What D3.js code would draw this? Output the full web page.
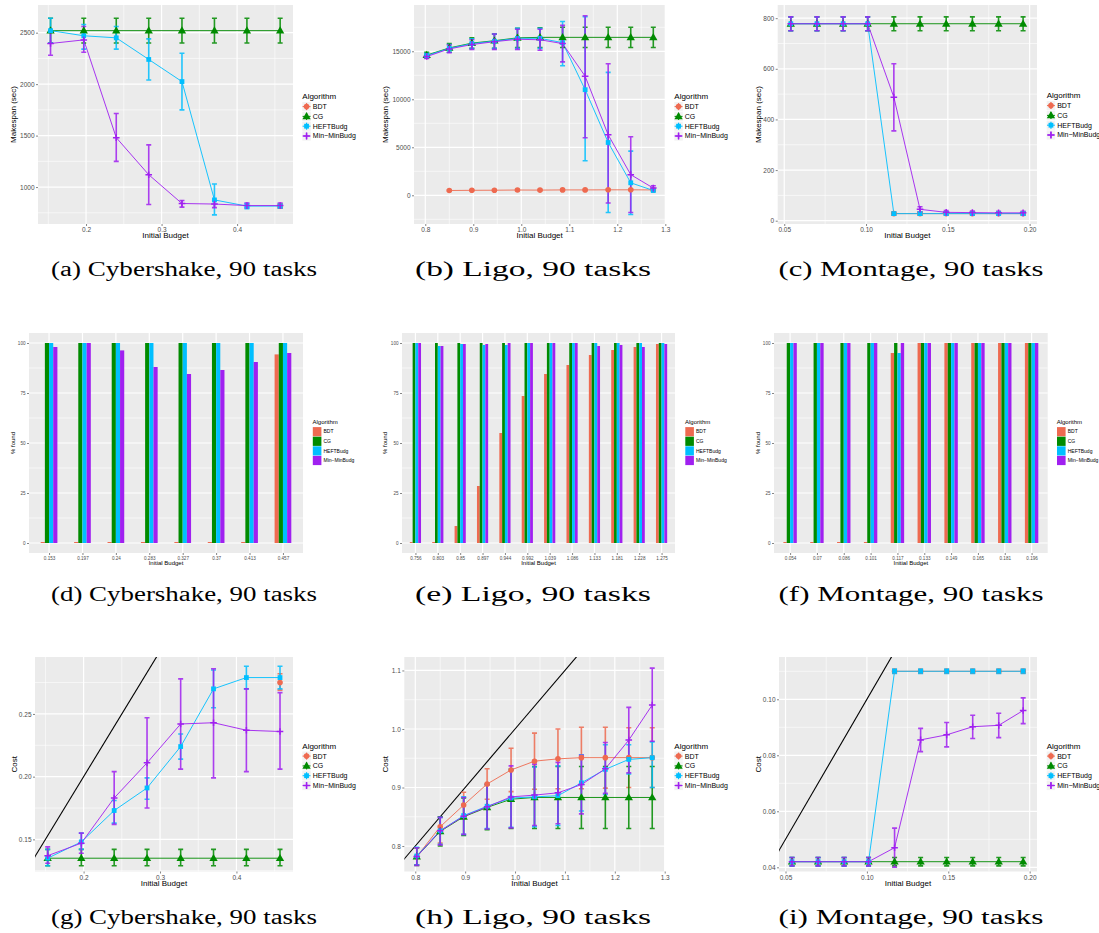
<!DOCTYPE html>
<html>
<head>
<meta charset="utf-8">
<script src="https://cdn.jsdelivr.net/npm/d3@7"></script>
<style>
body { margin: 0; background: #fff; }
svg { display: block; }
text { font-family: "Liberation Sans", Arial, sans-serif; }
.cap { font-family: "Liberation Serif", "DejaVu Serif", serif; }
</style>
</head>
<body>
<svg id="fig" width="1099" height="933"></svg>
<script>
/* global d3 */

var algorithms = ["BDT", "CG", "HEFTBudg", "Min\u2212MinBudg"];
var colors = ["#EE6A50", "#008B00", "#00BFFF", "#A020F0"];

var cyberBudget = [0.153, 0.197, 0.24, 0.283, 0.327, 0.37, 0.413, 0.457];
var ligoBudget = [0.756, 0.803, 0.85, 0.897, 0.944, 0.992, 1.039, 1.086, 1.133, 1.181, 1.228, 1.275];
var montageBudget = [0.054, 0.07, 0.086, 0.101, 0.117, 0.133, 0.149, 0.165, 0.181, 0.196];

// makespan: [mean, low, high], null = no schedule found
var cyberMakespanBDT = [null, null, null, null, null, null, null, [815, 795, 835]];
var cyberMakespanCG = [[2520, 2400, 2640], [2520, 2400, 2640], [2520, 2400, 2640], [2520, 2400, 2640],
    [2520, 2400, 2640], [2520, 2400, 2640], [2520, 2400, 2640], [2520, 2400, 2640]];
var cyberMakespanHEFT = [[2520, 2400, 2640], [2470, 2340, 2580], [2450, 2340, 2560], [2240, 2040, 2440],
    [2025, 1750, 2300], [875, 730, 1030], [815, 790, 840], [815, 795, 835]];
var cyberMakespanMinMin = [[2395, 2280, 2510], [2430, 2310, 2560], [1480, 1250, 1715], [1120, 830, 1410],
    [840, 805, 870], [835, 800, 870], [820, 800, 845], [820, 800, 845]];

var ligoMakespanBDT = [null, null, [500, 450, 550], [520, 470, 570], [530, 480, 580], [550, 500, 600],
    [540, 490, 590], [560, 510, 610], [560, 510, 610], [570, 520, 620], [570, 520, 620], [560, 510, 610]];
var ligoMakespanCG = [null, [14600, 14300, 14900], [15350, 14900, 15800], [15850, 15300, 16400],
    [16100, 15300, 16800], [16400, 15400, 17400], [16450, 15400, 17450], [16450, 15400, 17500],
    [16450, 15400, 17500], [16450, 15400, 17500], [16450, 15400, 17500], [16450, 15400, 17500]];
var ligoMakespanHEFT = [null, [14550, 14350, 14800], [15300, 14900, 15700], [15800, 15300, 16300],
    [16050, 15300, 16800], [16350, 15300, 17400], [16350, 15300, 17400], [15900, 13500, 18100],
    [11000, 3600, 18600], [5500, -1800, 12800], [1300, -2000, 4600], [500, 400, 650]];
var ligoMakespanMinMin = [null, [14450, 14250, 14700], [15250, 14850, 15650], [15700, 15200, 16200],
    [16000, 15200, 16800], [16250, 15200, 17300], [16200, 15100, 17300], [15800, 13900, 17700],
    [12400, 6000, 18700], [6300, -800, 13700], [2150, -1800, 6100], [750, 500, 1000]];

var montageMakespanBDT = [null, null, null, null, [28, 22, 34], [28, 22, 34], [28, 22, 34],
    [28, 22, 34], [28, 22, 34], [28, 22, 34]];
var montageMakespanCG = [[778, 750, 805], [778, 750, 805], [778, 750, 805], [778, 750, 805], [778, 750, 805],
    [778, 750, 805], [778, 750, 805], [778, 750, 805], [778, 750, 805], [778, 750, 805]];
var montageMakespanHEFT = [[778, 750, 805], [778, 750, 805], [778, 750, 805], [778, 750, 805], [28, 22, 34],
    [28, 22, 34], [28, 22, 34], [28, 22, 34], [28, 22, 34], [28, 22, 34]];
var montageMakespanMinMin = [[778, 750, 805], [778, 750, 805], [778, 750, 805], [778, 750, 805],
    [488, 355, 620], [45, 35, 55], [33, 26, 40], [32, 26, 38], [31, 26, 37], [31, 26, 37]];

// percentage of runs where a schedule was found
var cyberFoundBDT = [0.5, 0.5, 0.5, 0.5, 0.5, 0.5, 0.5, 94.3];
var cyberFoundCG = [100, 100, 100, 100, 100, 100, 100, 100];
var cyberFoundHEFT = [100, 100, 100, 100, 100, 100, 100, 100];
var cyberFoundMinMin = [98, 100, 96.3, 88, 84.5, 86.5, 90.5, 95];

var ligoFoundBDT = [0.5, 0.5, 8.5, 28.5, 55, 73.5, 84.5, 89, 94, 96.5, 98, 99.5];
var ligoFoundCG = [100, 100, 100, 100, 100, 100, 100, 100, 100, 100, 100, 100];
var ligoFoundHEFT = [100, 98.5, 99.5, 99, 99, 100, 100, 100, 100, 100, 100, 100];
var ligoFoundMinMin = [100, 98.5, 99.5, 99.5, 100, 100, 100, 100, 98.5, 99, 98, 99.5];

var montageFoundBDT = [0.5, 0.5, 0.5, 0.5, 95, 100, 100, 100, 100, 100];
var montageFoundCG = [100, 100, 100, 100, 100, 100, 100, 100, 100, 100];
var montageFoundHEFT = [100, 100, 100, 100, 95, 100, 100, 100, 100, 100];
var montageFoundMinMin = [100, 100, 100, 100, 100, 100, 100, 100, 100, 100];

// cost: [mean, low, high]
var cyberCostBDT = [null, null, null, null, null, null, null, [0.275, 0.269, 0.282]];
var cyberCostCG = [[0.135, 0.129, 0.142], [0.135, 0.129, 0.142], [0.135, 0.129, 0.142], [0.135, 0.129, 0.142],
    [0.135, 0.129, 0.142], [0.135, 0.129, 0.142], [0.135, 0.129, 0.142], [0.135, 0.129, 0.142]];
var cyberCostHEFT = [[0.135, 0.129, 0.142], [0.148, 0.142, 0.155], [0.173, 0.163, 0.181], [0.191, 0.182, 0.199],
    [0.224, 0.214, 0.234], [0.270, 0.255, 0.285], [0.279, 0.270, 0.288], [0.279, 0.270, 0.288]];
var cyberCostMinMin = [[0.137, 0.131, 0.144], [0.147, 0.139, 0.155], [0.183, 0.162, 0.204], [0.211, 0.175, 0.247],
    [0.242, 0.206, 0.278], [0.243, 0.199, 0.286], [0.237, 0.204, 0.270], [0.236, 0.206, 0.267]];

var ligoCostBDT = [null, [0.782, 0.768, 0.797], [0.833, 0.805, 0.850], [0.870, 0.848, 0.892], [0.906, 0.880, 0.932],
    [0.930, 0.893, 0.967], [0.945, 0.897, 0.993], [0.949, 0.898, 1.000], [0.951, 0.898, 1.003],
    [0.951, 0.899, 1.003], [0.951, 0.900, 1.002], [0.951, 0.900, 1.002]];
var ligoCostCG = [null, [0.782, 0.767, 0.797], [0.825, 0.800, 0.850], [0.850, 0.818, 0.882], [0.866, 0.828, 0.905],
    [0.880, 0.830, 0.930], [0.883, 0.830, 0.936], [0.883, 0.830, 0.936], [0.883, 0.830, 0.936],
    [0.883, 0.830, 0.936], [0.883, 0.830, 0.936], [0.883, 0.830, 0.936]];
var ligoCostHEFT = [null, [0.783, 0.768, 0.798], [0.826, 0.803, 0.849], [0.852, 0.820, 0.884], [0.868, 0.830, 0.906],
    [0.882, 0.832, 0.932], [0.884, 0.833, 0.935], [0.886, 0.835, 0.937], [0.908, 0.860, 0.956],
    [0.931, 0.888, 0.973], [0.948, 0.923, 0.973], [0.951, 0.900, 0.978]];
var ligoCostMinMin = [null, [0.782, 0.767, 0.797], [0.826, 0.802, 0.849], [0.851, 0.820, 0.883], [0.867, 0.829, 0.905],
    [0.884, 0.831, 0.937], [0.887, 0.835, 0.940], [0.891, 0.838, 0.943], [0.905, 0.855, 0.955],
    [0.932, 0.890, 0.977], [0.981, 0.925, 1.037], [1.041, 0.979, 1.104]];

var montageCostBDT = [null, null, null, null, [0.110, 0.1094, 0.1106], [0.110, 0.1094, 0.1106],
    [0.110, 0.1094, 0.1106], [0.110, 0.1094, 0.1106], [0.110, 0.1094, 0.1106], [0.110, 0.1094, 0.1106]];
var montageCostCG = [[0.042, 0.0405, 0.0435], [0.042, 0.0405, 0.0435], [0.042, 0.0405, 0.0435],
    [0.042, 0.0405, 0.0435], [0.042, 0.0405, 0.0435], [0.042, 0.0405, 0.0435], [0.042, 0.0405, 0.0435],
    [0.042, 0.0405, 0.0435], [0.042, 0.0405, 0.0435], [0.042, 0.0405, 0.0435]];
var montageCostHEFT = [[0.042, 0.0405, 0.0435], [0.042, 0.0405, 0.0435], [0.042, 0.0405, 0.0435],
    [0.042, 0.0405, 0.0435], [0.110, 0.1092, 0.1108], [0.110, 0.1092, 0.1108], [0.110, 0.1092, 0.1108],
    [0.110, 0.1092, 0.1108], [0.110, 0.1092, 0.1108], [0.110, 0.1092, 0.1108]];
var montageCostMinMin = [[0.042, 0.0405, 0.0435], [0.042, 0.0405, 0.0435], [0.042, 0.0405, 0.0435],
    [0.042, 0.0405, 0.0435], [0.047, 0.040, 0.054], [0.0855, 0.0813, 0.0896], [0.0873, 0.083, 0.0917],
    [0.0902, 0.086, 0.0943], [0.0907, 0.0863, 0.095], [0.096, 0.0913, 0.1005]];

var captions = ["(a) Cybershake, 90 tasks", "(b) Ligo, 90 tasks", "(c) Montage, 90 tasks",
    "(d) Cybershake, 90 tasks", "(e) Ligo, 90 tasks", "(f) Montage, 90 tasks",
    "(g) Cybershake, 90 tasks", "(h) Ligo, 90 tasks", "(i) Montage, 90 tasks"];

var svg = d3.select("#fig");
var clipN = 0;

function shape(sel, i, cx, cy, col) {
    if (i === 0) {
        sel.append("circle").attr("cx", cx).attr("cy", cy).attr("r", 2.8).attr("fill", col);
    } else if (i === 1) {
        sel.append("path").attr("d", d3.symbol(d3.symbolTriangle, 30)())
            .attr("transform", "translate(" + cx + "," + (cy + 0.5) + ")").attr("fill", col);
    } else if (i === 2) {
        sel.append("rect").attr("x", cx - 2.4).attr("y", cy - 2.4).attr("width", 4.8).attr("height", 4.8).attr("fill", col);
    } else {
        sel.append("path").attr("d", "M" + (cx - 3.3) + "," + cy + "H" + (cx + 3.3) + "M" + cx + "," + (cy - 3.3) + "V" + (cy + 3.3))
            .attr("stroke", col).attr("stroke-width", 1.5);
    }
}

function grid(g, c, x, y, xMaj, xMin, yMaj, yMin) {
    g.append("rect").attr("x", c.left).attr("y", c.top)
        .attr("width", c.right - c.left).attr("height", c.bottom - c.top).attr("fill", "#EBEBEB");
    g.selectAll(null).data(yMin).enter().append("line")
        .attr("x1", c.left).attr("x2", c.right).attr("y1", y).attr("y2", y)
        .attr("stroke", "#fff").attr("stroke-width", 0.6);
    g.selectAll(null).data(xMin).enter().append("line")
        .attr("y1", c.top).attr("y2", c.bottom).attr("x1", x).attr("x2", x)
        .attr("stroke", "#fff").attr("stroke-width", 0.6);
    g.selectAll(null).data(yMaj).enter().append("line")
        .attr("x1", c.left).attr("x2", c.right).attr("y1", y).attr("y2", y)
        .attr("stroke", "#fff").attr("stroke-width", 1.2);
    g.selectAll(null).data(xMaj).enter().append("line")
        .attr("y1", c.top).attr("y2", c.bottom).attr("x1", x).attr("x2", x)
        .attr("stroke", "#fff").attr("stroke-width", 1.2);
}

function styleAxis(a, fs) {
    a.select(".domain").remove();
    a.selectAll(".tick line").attr("stroke", "#333").attr("stroke-width", 0.6);
    a.selectAll(".tick text").attr("fill", "#4D4D4D").style("font-size", fs + "px").attr("font-family", null);
}

function axes(g, c, x, y, xTicks, yTicks, xFmt, yFmt, fs) {
    var ax = g.append("g").attr("transform", "translate(0," + c.bottom + ")")
        .call(d3.axisBottom(x).tickValues(xTicks).tickFormat(xFmt).tickSize(2).tickPadding(1.5));
    styleAxis(ax, fs);
    var ay = g.append("g").attr("transform", "translate(" + c.left + ",0)")
        .call(d3.axisLeft(y).tickValues(yTicks).tickFormat(yFmt).tickSize(2).tickPadding(1.5));
    styleAxis(ay, fs);
}

function titles(g, c, yTitle, fs) {
    g.append("text").attr("x", (c.left + c.right) / 2).attr("y", c.bottom + c.xTitleDy)
        .attr("text-anchor", "middle").style("font-size", fs + "px").attr("fill", "#000").text("Initial Budget");
    g.append("text").attr("transform", "translate(" + c.yTitleX + "," + ((c.top + c.bottom) / 2) + ") rotate(-90)")
        .attr("text-anchor", "middle").attr("dy", "0.35em").style("font-size", fs + "px").attr("fill", "#000").text(yTitle);
}

function caption(c, k) {
    svg.append("text").attr("class", "cap").attr("x", c.capX).attr("y", c.capY)
        .attr("text-anchor", "middle").attr("textLength", c.capW).attr("lengthAdjust", "spacingAndGlyphs")
        .style("font-size", "20.5px").attr("fill", "#000").text(captions[k]);
}

function linePanel(c) {
    var g = svg.append("g");
    var x = d3.scaleLinear().domain(c.xDomain).range([c.left, c.right]);
    var y = d3.scaleLinear().domain(c.yDomain).range([c.bottom, c.top]);
    grid(g, c, x, y, c.xTicks, c.xMinor, c.yTicks, c.yMinor);

    var id = "clip" + (clipN++);
    svg.append("clipPath").attr("id", id).append("rect")
        .attr("x", c.left).attr("y", c.top).attr("width", c.right - c.left).attr("height", c.bottom - c.top);
    var plot = g.append("g").attr("clip-path", "url(#" + id + ")");

    if (c.identity) {
        var lo = Math.min(c.xDomain[0], c.yDomain[0]), hi = Math.max(c.xDomain[1], c.yDomain[1]);
        plot.append("path").datum([lo, hi])
            .attr("d", d3.line().x(function (v) { return x(v); }).y(function (v) { return y(v); }))
            .attr("stroke", "#000").attr("stroke-width", 1.1).attr("fill", "none");
    }

    var pts = c.series.map(function (s) {
        return c.budget.map(function (b, j) { return { b: b, v: s[j] }; })
            .filter(function (d) { return d.v !== null; });
    });

    var line = d3.line().x(function (d) { return x(d.b); }).y(function (d) { return y(d.v[0]); });
    pts.forEach(function (p, i) {
        plot.append("path").datum(p).attr("d", line)
            .attr("stroke", colors[i]).attr("stroke-width", 1).attr("fill", "none").attr("opacity", 0.9);
    });
    pts.forEach(function (p, i) {
        var eb = plot.append("g").attr("stroke", colors[i]).attr("stroke-width", 1.6).attr("opacity", 0.85);
        p.forEach(function (d) {
            var cx = x(d.b);
            eb.append("path").attr("fill", "none")
                .attr("d", "M" + (cx - 2.5) + "," + y(d.v[1]) + "H" + (cx + 2.5) +
                    "M" + cx + "," + y(d.v[1]) + "V" + y(d.v[2]) +
                    "M" + (cx - 2.5) + "," + y(d.v[2]) + "H" + (cx + 2.5));
        });
    });
    pts.forEach(function (p, i) {
        p.forEach(function (d) { shape(plot, i, x(d.b), y(d.v[0]), colors[i]); });
    });

    axes(g, c, x, y, c.xTicks, c.yTicks, c.xFmt, c.yFmt, 6.5);
    titles(g, c, c.yTitle, 8);

    // legend
    var lg = g.append("g");
    lg.append("text").attr("x", c.legX).attr("y", c.legY).attr("dy", "0.35em")
        .style("font-size", "8px").attr("fill", "#000").text("Algorithm");
    algorithms.forEach(function (a, i) {
        var cy = c.legY + 9.8 * (i + 1) + 0.3;
        lg.append("rect").attr("x", c.legX).attr("y", cy - 4.6).attr("width", 8.5).attr("height", 9.2).attr("fill", "#F2F2F2");
        lg.append("line").attr("x1", c.legX + 0.3).attr("x2", c.legX + 8.2).attr("y1", cy).attr("y2", cy)
            .attr("stroke", colors[i]).attr("stroke-width", 1);
        lg.append("line").attr("x1", c.legX + 4.25).attr("x2", c.legX + 4.25).attr("y1", cy - 3.5).attr("y2", cy + 3.5)
            .attr("stroke", colors[i]).attr("stroke-width", 1.2);
        shape(lg, i, c.legX + 4.25, cy, colors[i]);
        lg.append("text").attr("x", c.legX + 10.5).attr("y", cy).attr("dy", "0.35em")
            .style("font-size", "7px").attr("fill", "#000").text(a);
    });
}

function barPanel(c) {
    var g = svg.append("g");
    var n = c.budget.length;
    var labels = c.budget.map(String);
    var pos = d3.scaleLinear().domain([0.4, n + 0.6]).range([c.left, c.right]);
    var x = function (lab) { return pos(labels.indexOf(lab) + 1); };
    var y = d3.scaleLinear().domain([-5, 105]).range([c.bottom, c.top]);
    grid(g, c, x, y, labels, [], [0, 25, 50, 75, 100], [12.5, 37.5, 62.5, 87.5]);

    var inner = d3.scaleBand().domain(d3.range(4)).range([-0.25, 0.25]);
    c.series.forEach(function (s, i) {
        g.selectAll(null).data(s).enter().append("rect")
            .attr("x", function (v, j) { return pos(j + 1 + inner(i)); })
            .attr("width", pos(1 + inner.bandwidth()) - pos(1))
            .attr("y", function (v) { return y(Math.max(v, 0)); })
            .attr("height", function (v) { return Math.abs(y(0) - y(v)); })
            .attr("fill", colors[i]);
    });

    var ax = g.append("g").attr("transform", "translate(0," + c.bottom + ")")
        .call(d3.axisBottom(d3.scalePoint().domain(labels).range([pos(1), pos(n)])).tickSize(2).tickPadding(1.5));
    styleAxis(ax, 4.6);
    var ay = g.append("g").attr("transform", "translate(" + c.left + ",0)")
        .call(d3.axisLeft(y).tickValues([0, 25, 50, 75, 100]).tickFormat(d3.format("d")).tickSize(2).tickPadding(1.5));
    styleAxis(ay, 4.6);
    titles(g, c, "% found", 6);

    var lg = g.append("g");
    lg.append("text").attr("x", c.legX).attr("y", c.legY).attr("dy", "0.35em")
        .style("font-size", "6px").attr("fill", "#000").text("Algorithm");
    algorithms.forEach(function (a, i) {
        var cy = c.legY + 10 + 9.6 * i;
        lg.append("rect").attr("x", c.legX + 0.3).attr("y", cy - 4.6).attr("width", 8.6).attr("height", 9.2).attr("fill", colors[i]);
        lg.append("text").attr("x", c.legX + 11).attr("y", cy).attr("dy", "0.35em")
            .style("font-size", "5px").attr("fill", "#000").text(a);
    });
}

var f2 = d3.format(".2f"), f1 = d3.format(".1f"), fd = d3.format("d");
var cyberX = { xDomain: [0.1364, 0.474], xTicks: [0.2, 0.3, 0.4], xMinor: [0.15, 0.25, 0.35, 0.45], xFmt: f1 };
var ligoX = { xDomain: [0.7765, 1.30], xTicks: [0.8, 0.9, 1.0, 1.1, 1.2, 1.3], xMinor: [0.85, 0.95, 1.05, 1.15, 1.25], xFmt: f1 };
var montX = { xDomain: [0.046, 0.2045], xTicks: [0.05, 0.10, 0.15, 0.20], xMinor: [0.075, 0.125, 0.175], xFmt: f2 };

function merge(a, b) { return Object.assign({}, a, b); }

var rows = [{ capY: 276 }, { capY: 601 }, { capY: 924 }];
var cols = [{ capX: 184, capW: 266 }, { capX: 533, capW: 236 }, { capX: 911, capW: 265 }];

// row 1: makespan
linePanel(merge(cyberX, { left: 38, right: 293, top: 5, bottom: 224, yDomain: [641, 2769],
    yTicks: [1000, 1500, 2000, 2500], yMinor: [750, 1250, 1750, 2250], yFmt: fd,
    budget: cyberBudget, series: [cyberMakespanBDT, cyberMakespanCG, cyberMakespanHEFT, cyberMakespanMinMin],
    yTitle: "Makespan (sec)", yTitleX: 13.5, xTitleDy: 14, legX: 302.3, legY: 96.5 }));
linePanel(merge(ligoX, { left: 414, right: 665.3, top: 5, bottom: 224, yDomain: [-2990, 19820],
    yTicks: [0, 5000, 10000, 15000], yMinor: [-2500, 2500, 7500, 12500, 17500], yFmt: fd,
    budget: ligoBudget, series: [ligoMakespanBDT, ligoMakespanCG, ligoMakespanHEFT, ligoMakespanMinMin],
    yTitle: "Makespan (sec)", yTitleX: 385, xTitleDy: 14, legX: 674.3, legY: 96.5 }));
linePanel(merge(montX, { left: 777.7, right: 1037, top: 5, bottom: 224, yDomain: [-13, 852],
    yTicks: [0, 200, 400, 600, 800], yMinor: [100, 300, 500, 700], yFmt: fd,
    budget: montageBudget, series: [montageMakespanBDT, montageMakespanCG, montageMakespanHEFT, montageMakespanMinMin],
    yTitle: "Makespan (sec)", yTitleX: 758.3, xTitleDy: 14, legX: 1046.7, legY: 95.5 }));

// row 2: % found
barPanel({ left: 29, right: 303, top: 333, bottom: 553, budget: cyberBudget,
    series: [cyberFoundBDT, cyberFoundCG, cyberFoundHEFT, cyberFoundMinMin],
    yTitleX: 13.3, xTitleDy: 12, legX: 312.5, legY: 421.7 });
barPanel({ left: 402, right: 675, top: 333, bottom: 553, budget: ligoBudget,
    series: [ligoFoundBDT, ligoFoundCG, ligoFoundHEFT, ligoFoundMinMin],
    yTitleX: 385, xTitleDy: 12, legX: 685, legY: 421.7 });
barPanel({ left: 774, right: 1047.7, top: 333, bottom: 553, budget: montageBudget,
    series: [montageFoundBDT, montageFoundCG, montageFoundHEFT, montageFoundMinMin],
    yTitleX: 757.7, xTitleDy: 12, legX: 1056.7, legY: 421.7 });

// row 3: cost, with the cost = budget line
linePanel(merge(cyberX, { left: 35, right: 293, top: 657, bottom: 871.5, yDomain: [0.1244, 0.2954],
    yTicks: [0.15, 0.20, 0.25], yMinor: [0.125, 0.175, 0.225, 0.275], yFmt: f2, identity: true,
    budget: cyberBudget, series: [cyberCostBDT, cyberCostCG, cyberCostHEFT, cyberCostMinMin],
    yTitle: "Cost", yTitleX: 14, xTitleDy: 14, legX: 302.3, legY: 746 }));
linePanel(merge(ligoX, { left: 404.3, right: 664.7, top: 657, bottom: 871.5, yDomain: [0.7565, 1.123],
    xDomain: [0.778, 1.30],
    yTicks: [0.8, 0.9, 1.0, 1.1], yMinor: [0.85, 0.95, 1.05], yFmt: f1, identity: true,
    budget: ligoBudget, series: [ligoCostBDT, ligoCostCG, ligoCostHEFT, ligoCostMinMin],
    yTitle: "Cost", yTitleX: 385, xTitleDy: 14, legX: 674.3, legY: 746 }));
linePanel(merge(montX, { left: 779, right: 1037, top: 657, bottom: 871.5, yDomain: [0.0385, 0.1151],
    yTicks: [0.04, 0.06, 0.08, 0.10], yMinor: [0.05, 0.07, 0.09, 0.11], yFmt: f2, identity: true,
    budget: montageBudget, series: [montageCostBDT, montageCostCG, montageCostHEFT, montageCostMinMin],
    yTitle: "Cost", yTitleX: 757.7, xTitleDy: 14, legX: 1046.7, legY: 746 }));

rows.forEach(function (r, ri) {
    cols.forEach(function (c, ci) {
        caption({ capX: c.capX, capY: r.capY, capW: c.capW }, ri * 3 + ci);
    });
});
</script>
</body>
</html>
